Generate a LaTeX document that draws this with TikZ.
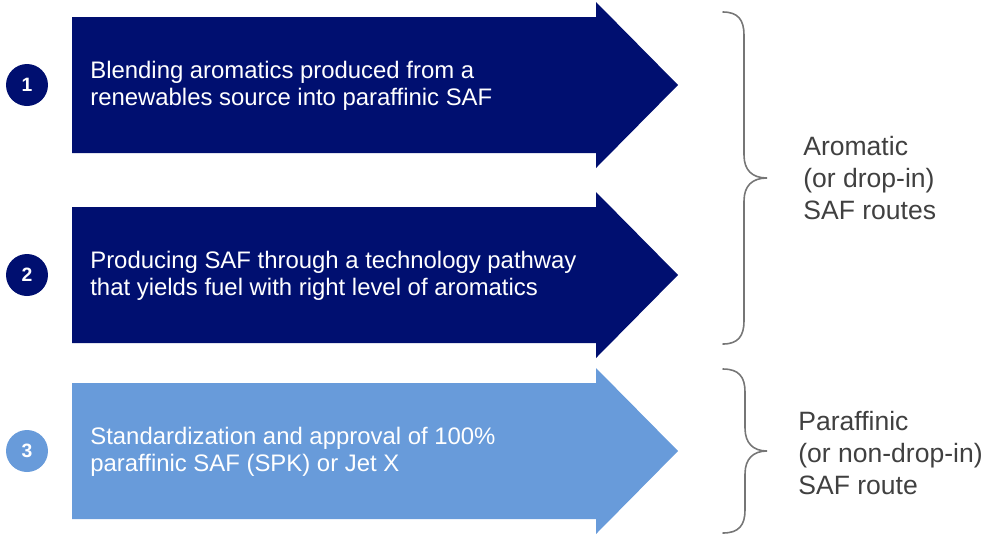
\documentclass[tikz,border=0pt]{standalone}
\usepackage{fontspec}
\setmainfont{Liberation Sans}
\definecolor{navy}{RGB}{0,15,112}
\definecolor{skyblue}{RGB}{104,155,218}
\definecolor{bracegray}{RGB}{118,118,118}
\definecolor{labelgray}{RGB}{64,64,64}

\begin{document}
\begin{tikzpicture}[x=0.02cm, y=-0.02cm,
        badge/.style={circle, minimum size=0.84cm, inner sep=0pt, text=white, font=\bfseries\fontsize{11}{13}\selectfont},
        steptext/.style={anchor=west, align=left, inner sep=0pt, text=white, font=\fontsize{13.6}{15.6}\selectfont},
        routetext/.style={anchor=west, align=left, inner sep=0pt, text=labelgray, font=\fontsize{15.1}{18.2}\selectfont},
        bracket/.style={draw=bracegray, line width=0.9pt, line cap=round}]
            \useasboundingbox (0,0) rectangle (986,535);
            % the three arrows with their numbers
            \foreach \c/\col/\n/\txt in {85/navy/1/{Blending aromatics produced from a\\renewables source into paraffinic SAF},
                                         275/navy/2/{Producing SAF through a technology pathway\\that yields fuel with right level of aromatics},
                                         451/skyblue/3/{Standardization and approval of 100\%\\paraffinic SAF (SPK) or Jet X}} {
                \fill[\col] (72,\c-68) -- (596,\c-68) -- (596,\c-83) -- (678,\c) -- (596,\c+83) -- (596,\c+68) -- (72,\c+68) -- cycle;
                \node[badge, fill=\col] (badge\n) at (27,\c) {\n};
                \node[steptext] (step\n) at (90,\c+1) {\txt};
            }
            % braces
            \draw[bracket] (723,12) .. controls (738,12) and (744,20) .. (744,35) -- (744,155)
                .. controls (744,170) and (752,178) .. (767,178) .. controls (752,178) and (744,186) .. (744,201)
                -- (744,321) .. controls (744,336) and (738,344) .. (723,344);
            \draw[bracket] (723,369) .. controls (739,369) and (745,377) .. (745,392) -- (745,428)
                .. controls (745,443) and (753,451) .. (767,451) .. controls (753,451) and (745,459) .. (745,474)
                -- (745,510) .. controls (745,525) and (739,533) .. (723,533);
            \node[routetext] (aromatic) at (803,178) {Aromatic\\(or drop-in)\\SAF routes};
            \node[routetext] (paraffinic) at (798,453) {Paraffinic\\(or non-drop-in)\\SAF route};
        \end{tikzpicture}
\end{document}
